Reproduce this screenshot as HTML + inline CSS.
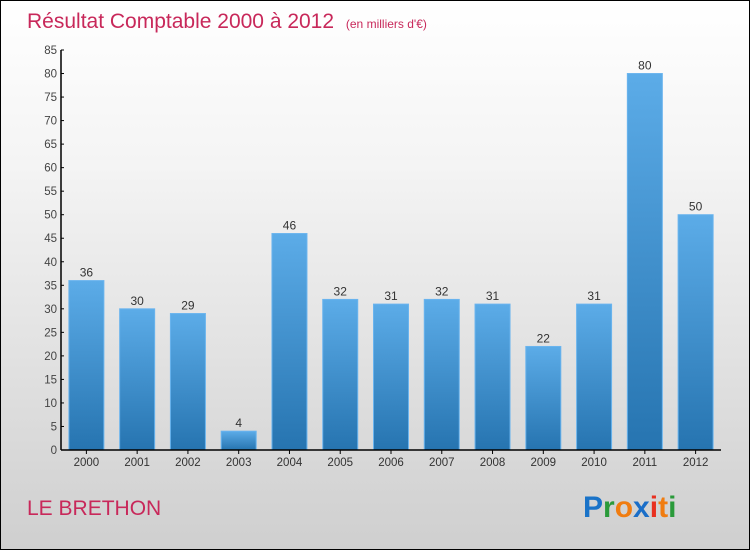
<!DOCTYPE html>
<html><head><meta charset="utf-8"><style>
body{margin:0}
#c{width:748px;height:548px;border:1px solid #000;background:linear-gradient(#fff,#f4f4f4 30%,#cfcfcf);position:relative;font-family:"Liberation Sans",sans-serif;overflow:hidden}
</style></head><body>
<div id="c">
<svg id="s" width="748" height="548" xmlns="http://www.w3.org/2000/svg">
<defs><linearGradient id="g" x1="0" y1="0" x2="0" y2="1"><stop offset="0" stop-color="#5cace8"/><stop offset="1" stop-color="#2674b0"/></linearGradient></defs>
<text x="26" y="27" font-size="21" fill="#c8285a">Résultat Comptable 2000 à 2012 <tspan font-size="12" dx="6">(en milliers d'€)</tspan></text>
<text x="26" y="514" font-size="21" fill="#c8285a">LE BRETHON</text>
<g font-size="30" font-weight="bold" font-family="Liberation Sans, sans-serif"><text x="582" y="516"><tspan fill="#1a73c8">P</tspan><tspan fill="#2a9a3a">r</tspan><tspan fill="#f07c10">o</tspan><tspan fill="#1a6ec8">x</tspan><tspan fill="#e83020">i</tspan><tspan fill="#f07c10">t</tspan><tspan fill="#2a9a3a">i</tspan></text></g>
<g id="plot"></g>
</svg></div>
<script>
const categories=["2000","2001","2002","2003","2004","2005","2006","2007","2008","2009","2010","2011","2012"];
const values=[36,30,29,4,46,32,31,32,31,22,31,80,50];
const yTicks=[0,5,10,15,20,25,30,35,40,45,50,55,60,65,70,75,80,85];
const NS="http://www.w3.org/2000/svg";
const x0=60,x1=720,y0=449,y1=49,ymax=85;
const y=v=>y0-(v/ymax)*(y0-y1);
const bw=(x1-x0)/categories.length;
const xc=i=>x0+bw*(i+0.5);
const p=document.getElementById('plot');
function mk(t,a,txt){const e=document.createElementNS(NS,t);for(const k in a)e.setAttribute(k,a[k]);if(txt!=null)e.textContent=txt;p.appendChild(e);return e;}
values.forEach((v,i)=>{
 const r=mk('rect',{x:xc(i)-17.5,y:y(v),width:35,height:y0-y(v),fill:'url(#g)',stroke:'#6ab4ee','stroke-width':1});
 
 
 const t=mk('text',{x:xc(i),y:y(v)-4,'text-anchor':'middle','font-size':12,fill:'#333'},String(v));
 
 
 const l=mk('text',{x:xc(i),y:y0+16,'text-anchor':'middle','font-size':11.5,fill:'#333'},categories[i]);
 
 
 mk('line',{x1:xc(i),x2:xc(i),y1:y0,y2:y0+4,stroke:'#000'});
});
yTicks.forEach(v=>{
 mk('line',{x1:x0,x2:x0+3,y1:y(v),y2:y(v),stroke:'#000'});
 const t=mk('text',{x:x0-4,y:y(v)+4,'text-anchor':'end','font-size':11.5,fill:'#444'},String(v));
 
 
});
const ya=mk('line',{x1:x0,x2:x0,y1:y1,y2:y0,stroke:'#000','stroke-width':1.5});


const xa=mk('line',{x1:x0,x2:x1,y1:y0,y2:y0,stroke:'#000','stroke-width':1.5});


</script>
</body></html>
